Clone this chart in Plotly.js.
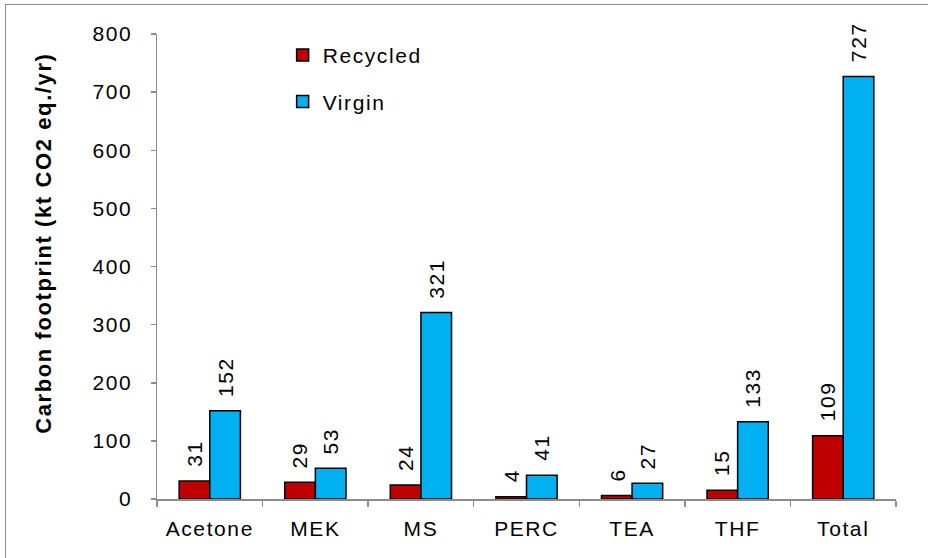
<!DOCTYPE html>
<html>
<head>
<meta charset="utf-8">
<script src="https://cdn.plot.ly/plotly-3.0.1.min.js"></script>
<style>
  html, body { margin: 0; padding: 0; background: #fff; }
  #wrap { position: relative; width: 928px; height: 558px; overflow: hidden; }
  #chart { width: 928px; height: 558px; }
  text { letter-spacing: 1.6px; }
  #frame { position: absolute; left: 5px; top: 4px; width: 960px; height: 600px; border: 1.5px solid #8c8c8c; pointer-events: none; }
</style>
</head>
<body>
<div id="wrap"><div id="chart"></div><div id="frame"></div></div>
<script>
const categories = ["Acetone", "MEK", "MS", "PERC", "TEA", "THF", "Total"];
const recycled = [31, 29, 24, 4, 6, 15, 109];
const virgin = [152, 53, 321, 41, 27, 133, 727];
const yTicks = [0, 100, 200, 300, 400, 500, 600, 700, 800];
const yTitle = "Carbon footprint (kt CO2 eq./yr)";

const font = { family: "Liberation Sans, Arial, sans-serif", size: 21, color: "#000" };

const traces = [
  { type: "bar", name: "Recycled", x: categories, y: recycled, legendgroup: "r",
    marker: { color: "#c00000", line: { color: "#000", width: 1.5 } }, hoverinfo: "x+y" },
  { type: "bar", name: "Virgin", x: categories, y: virgin, legendgroup: "v",
    marker: { color: "#00b0f0", line: { color: "#000", width: 1.5 } }, hoverinfo: "x+y" }
];

function labels(vals, shift) {
  return categories.map((c, i) => ({
    x: c, y: vals[i], xref: "x", yref: "y", text: String(vals[i]), showarrow: false,
    textangle: -90, xanchor: "center", yanchor: "bottom", xshift: shift, yshift: 12, font: font
  }));
}

const titleAnn = {
  xref: "paper", yref: "paper", x: -0.153, y: 0.551, xanchor: "center", yanchor: "middle",
  text: "<b>" + yTitle + "</b>", textangle: -90, showarrow: false,
  font: { family: font.family, size: 22, color: "#000" }
};

const layout = {
  width: 928, height: 558,
  margin: { l: 157, r: 32, t: 34, b: 59 },
  paper_bgcolor: "#fff", plot_bgcolor: "#fff",
  font: font,
  barmode: "group", bargap: 0.42, bargroupgap: 0,
  showlegend: true,
  legend: { x: 0.17, y: 0.998, xanchor: "left", yanchor: "top", font: font,
            traceorder: "grouped", tracegroupgap: 16, bgcolor: "rgba(0,0,0,0)", itemwidth: 30 },
  annotations: labels(recycled, -15.5).concat(labels(virgin, 15.5)).concat([titleAnn]),
  xaxis: { type: "category", showline: true, linecolor: "#8c8c8c", linewidth: 1.5,
           ticks: "outside", tickson: "boundaries", ticklen: 6, tickcolor: "#8c8c8c", tickwidth: 1.5,
           showgrid: false, tickfont: font, zeroline: false, ticklabelstandoff: 10 },
  yaxis: { range: [0, 800], tickvals: yTicks, ticktext: yTicks.map(String),
           showline: true, linecolor: "#8c8c8c", linewidth: 1.5,
           ticks: "outside", ticklen: 5, tickcolor: "#8c8c8c", tickwidth: 1.5,
           showgrid: false, zeroline: false, tickfont: font, ticklabelstandoff: 14 }
};

Plotly.newPlot("chart", traces, layout, { displayModeBar: false, staticPlot: true });
</script>
</body>
</html>
